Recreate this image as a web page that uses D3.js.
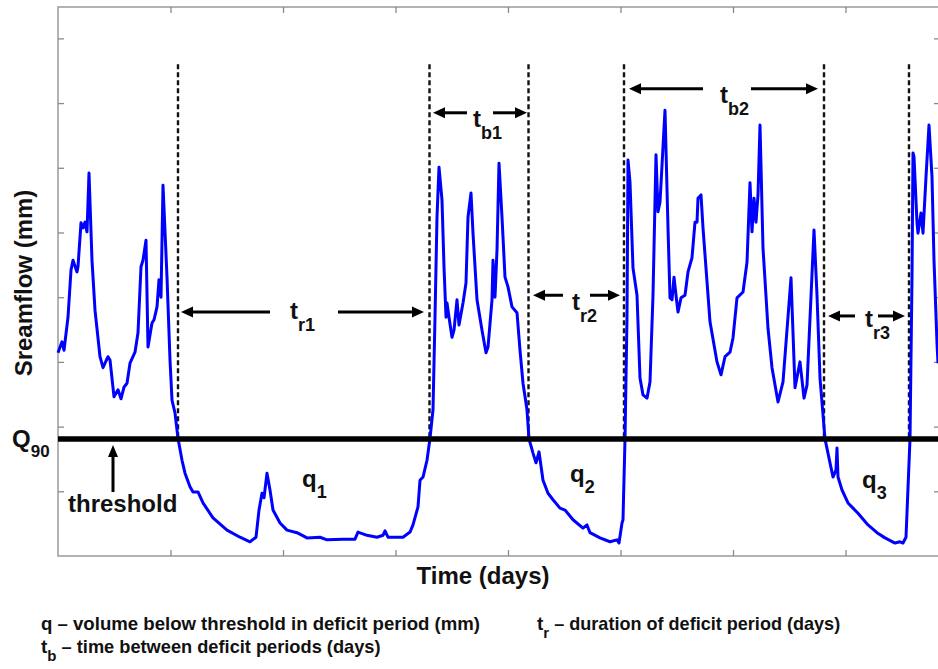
<!DOCTYPE html>
<html><head><meta charset="utf-8">
<script src="https://cdn.jsdelivr.net/npm/d3@7"></script>
<style>body{margin:0;background:#fff}svg{display:block}</style>
</head><body>
<svg id="c" width="938" height="669"></svg>
<script>
// ---- data (days, streamflow mm) ----
const days = [0,4,6,10,13,15,19,20,23,25,27,29,31,34,37,42,45,50,52,56,60,63,66,69,72,77,80,83,85,88,90,94,96,99,101,103,105,109,112,114,117,120,
124,127,132,135,140,145,155,169,182,192,198,201,204,206,209,212,215,222,229,239,249,262,269,285,297,300,309,319,325,327,330,345,352,355,360,362,365,369,372,
375,377,379,381,384,386,388,389,391,394,396,399,401,405,408,410,413,415,419,424,428,430,434,435,437,439,441,444,447,450,454,459,462,465,469,471,
475,478,481,485,490,495,502,507,515,525,529,532,542,552,559,561,564,565,567,569,570,
572,575,579,582,585,589,592,595,598,600,602,607,610,612,614,616,618,620,623,627,630,634,637,639,640,643,645,652,659,663,667,672,675,679,685,689,692,694,696,698,700,702,705,710,714,720,725,733,737,742,746,749,756,759,762,767,
772,775,778,779,780,784,790,795,800,810,819,827,837,842,845,848,852,854,855,856,859,860,863,865,868,871,874,876,879,880];
const flow = [31.4,33.1,31.8,36.9,44.2,45.7,43.9,44.7,51.5,50.7,51.6,50.1,59.2,45.7,38.0,30.8,29.1,30.8,30.3,24.6,25.7,24.3,26.1,26.7,29.8,31.5,34.5,44.7,45.7,48.8,32.3,36.0,36.5,38.5,42.7,40.0,57.3,43.1,30.3,24.1,22.1,18.2,
14.8,12.8,10.7,9.9,9.9,8.2,5.9,4.0,2.9,2.2,2.9,7.1,9.7,9.0,12.8,10.2,7.1,5.1,4.0,3.6,2.8,2.9,2.5,2.6,2.6,3.7,3.2,2.9,3.2,3.9,2.9,2.9,3.7,4.8,7.6,11.7,12.2,14.8,18.2,
22.6,36.9,52.4,60.1,55.0,44.7,36.9,39.1,36.9,33.8,34.9,39.6,35.7,39.1,42.2,52.4,56.1,49.9,39.6,34.9,31.4,32.3,39.6,45.7,40.0,47.3,60.7,52.4,43.1,41.6,38.5,37.6,31.8,26.7,22.6,18.1,
15.9,14.4,16.1,11.7,9.7,8.7,7.4,7.1,5.6,4.3,4.8,3.6,2.8,2.2,2.5,2.0,5.1,5.6,18.1,36.9,61.2,
57.8,44.5,40.3,27.5,24.9,24.4,26.9,40.3,62.0,53.2,54.7,68.9,50.7,39.9,39.6,43.1,40.3,37.7,39.9,40.3,43.9,46.1,51.6,51.6,55.3,55.8,50.7,36.2,30.0,28.0,30.8,31.5,33.7,39.9,40.8,45.4,57.7,50.1,55.3,51.6,55.8,66.6,47.6,35.2,29.1,23.8,26.9,43.0,26.0,30.0,24.4,26.4,50.4,40.3,27.5,18.1,
14.4,12.2,13.3,16.7,12.2,10.2,8.2,7.4,6.6,4.8,3.6,2.8,2.0,2.2,2.0,2.9,18.1,43.1,62.3,61.7,51.5,49.9,53.0,49.9,58.6,66.6,58.6,45.7,32.9,29.8];
const threshold = 18.1;                       // Q90
const crossings = [120, 371.5, 470.5, 566, 766, 851]; // start/end of deficit periods
const dashTop = 76;
const xTicks = [112.5, 225, 337.5, 450, 562.5, 675, 787.5];
const yTicks = [10, 20, 30, 40, 50, 60, 70, 80];
// span annotations: label sub, level (mm), left arrow [head, tail], right arrow [tail, head], label day
const spanSub   = ["r1", "b1", "r2", "b2", "r3"];
const spanLevel = [37.7, 68.5, 40.3, 72.2, 37.1];
const spanLeft  = [[123,212],[375,409],[475,505],[571,645],[770,797]];
const spanRight = [[280,366],[435,469],[532,562],[693,760],[820,847]];
const spanText  = [232, 415, 514, 662, 807];
const spanDy    = [7, 14, 15, 14, 11];
const qLabels = [["1", 244, 10.7], ["2", 512, 11.4], ["3", 804, 10.5]];

// ---- layout ----
const svg = d3.select("#c");
const L = 58, T = 7, B = 556, R = 940;
const x = d3.scaleLinear().domain([0, 900]).range([L, L + 900]);
const y = d3.scaleLinear().domain([0, 84.85]).range([B, T]);
const FONT = "'Liberation Sans', Arial, Helvetica, sans-serif";

// frame
svg.append("rect").attr("x", L).attr("y", T).attr("width", R - L).attr("height", B - T)
  .attr("fill", "none").attr("stroke", "#9a9a9a").attr("stroke-width", 1.5);
function ax(g) { g.select(".domain").remove(); g.selectAll(".tick line").attr("stroke", "#8a8a8a").attr("stroke-width", 1.3); g.selectAll("text").remove(); }
svg.append("g").attr("transform", `translate(0,${B})`).call(d3.axisBottom(x).tickValues(xTicks).tickSize(-6).tickFormat("")).call(ax);
svg.append("g").attr("transform", `translate(0,${T})`).call(d3.axisTop(x).tickValues(xTicks).tickSize(-6).tickFormat("")).call(ax);
svg.append("g").attr("transform", `translate(${L},0)`).call(d3.axisLeft(y).tickValues(yTicks).tickSize(-6).tickFormat("")).call(ax);
svg.append("g").attr("transform", `translate(${R},0)`).call(d3.axisRight(y).tickValues(yTicks).tickSize(-6).tickFormat("")).call(ax);

// dashed verticals
svg.append("g").selectAll("line").data(crossings).join("line")
  .attr("x1", d => x(d)).attr("x2", d => x(d)).attr("y1", y(dashTop)).attr("y2", y(threshold))
  .attr("stroke", "#111").attr("stroke-width", 2.4).attr("stroke-dasharray", "5,3");

// streamflow line
const pts = days.map((d, i) => [d, flow[i]]);
svg.append("path").datum(pts)
  .attr("d", d3.line().x(d => x(d[0])).y(d => y(d[1])))
  .attr("fill", "none").attr("stroke", "#0000ff").attr("stroke-width", 3).attr("stroke-linejoin", "round");

// threshold
svg.append("line").attr("x1", L).attr("x2", R).attr("y1", y(threshold)).attr("y2", y(threshold))
  .attr("stroke", "#000").attr("stroke-width", 5.5);

// arrows
function harrow(tailPx, headPx, yPx) {
  const dir = Math.sign(headPx - tailPx), hl = 12, hw = 5.5;
  svg.append("line").attr("x1", tailPx).attr("x2", headPx - dir * hl).attr("y1", yPx).attr("y2", yPx)
    .attr("stroke", "#000").attr("stroke-width", 3);
  svg.append("path").attr("d", `M${headPx},${yPx}L${headPx - dir * hl},${yPx - hw}L${headPx - dir * hl},${yPx + hw}Z`).attr("fill", "#000");
}
spanSub.forEach((s, i) => {
  const yy = y(spanLevel[i]);
  harrow(x(spanLeft[i][1]), x(spanLeft[i][0]), yy);
  harrow(x(spanRight[i][0]), x(spanRight[i][1]), yy);
  const t = svg.append("text").attr("x", x(spanText[i])).attr("y", yy + spanDy[i])
    .attr("font-family", FONT).attr("font-weight", "bold").attr("font-size", 24).attr("fill", "#111");
  t.append("tspan").text("t");
  t.append("tspan").attr("dy", 12).attr("font-size", 18).text(s);
});

// q labels
qLabels.forEach(q => {
  const t = svg.append("text").attr("x", x(q[1])).attr("y", y(q[2]))
    .attr("font-family", FONT).attr("font-weight", "bold").attr("font-size", 24).attr("fill", "#111");
  t.append("tspan").text("q");
  t.append("tspan").attr("dy", 11).attr("font-size", 18).text(q[0]);
});

// Q90
const qq = svg.append("text").attr("x", 12).attr("y", 447)
  .attr("font-family", FONT).attr("font-weight", "bold").attr("font-size", 24).attr("fill", "#111");
qq.append("tspan").text("Q");
qq.append("tspan").attr("dy", 10).attr("font-size", 17).text("90");

// threshold label + arrow
svg.append("text").attr("x", 68).attr("y", 512).attr("font-family", FONT).attr("font-weight", "bold")
  .attr("font-size", 24).attr("fill", "#111").text("threshold");
{
  const ax0 = x(55), yb = 492, yh = 445;
  svg.append("line").attr("x1", ax0).attr("x2", ax0).attr("y1", yb).attr("y2", yh + 11).attr("stroke", "#000").attr("stroke-width", 3);
  svg.append("path").attr("d", `M${ax0},${yh}L${ax0 - 5},${yh + 12}L${ax0 + 5},${yh + 12}Z`).attr("fill", "#000");
}

// axis titles
svg.append("text").attr("transform", "translate(32,283) rotate(-90)").attr("text-anchor", "middle")
  .attr("font-family", FONT).attr("font-weight", "bold").attr("font-size", 24).attr("fill", "#111").text("Sreamflow (mm)");
svg.append("text").attr("x", 483).attr("y", 584).attr("text-anchor", "middle")
  .attr("font-family", FONT).attr("font-weight", "bold").attr("font-size", 24).attr("fill", "#111").text("Time (days)");

// footer legend
const NF = "'Liberation Sans Narrow', 'Arial Narrow', 'Liberation Sans', Arial, sans-serif";
function foot(xp, yp, width, main, sub, rest) {
  const t = svg.append("text").attr("x", xp).attr("y", yp).attr("font-family", NF).attr("font-weight", "bold")
    .attr("font-size", 19).attr("fill", "#111");
  if (!sub) {
    t.attr("textLength", width).attr("lengthAdjust", "spacingAndGlyphs").text(main);
  } else {
    t.append("tspan").text(main);
    t.append("tspan").attr("dy", 8).attr("font-size", 15).text(sub);
    t.append("tspan").attr("dy", -8).attr("textLength", width).attr("lengthAdjust", "spacingAndGlyphs").text(rest);
  }
}
foot(41, 630, 439, "q \u2013 volume below threshold in deficit period (mm)");
foot(537, 630, 291, "t", "r", " \u2013 duration of deficit period (days)");
foot(41, 653, 324, "t", "b", " \u2013 time between deficit periods (days)");
</script>
</body></html>
